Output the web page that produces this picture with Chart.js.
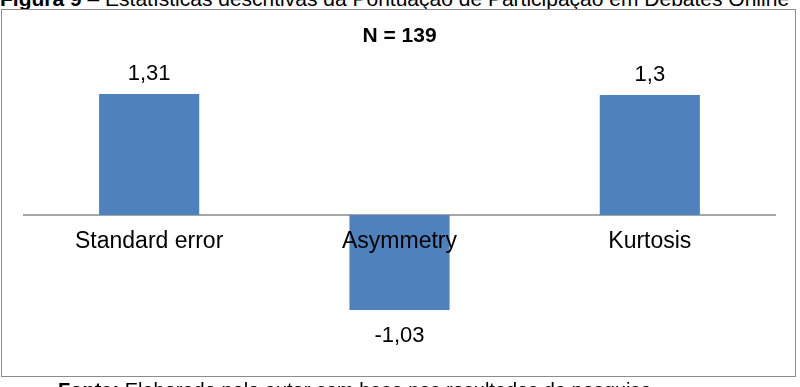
<!DOCTYPE html>
<html>
<head>
<meta charset="utf-8">
<script src="https://cdn.jsdelivr.net/npm/chart.js@4"></script>
<style>
  html, body { margin: 0; padding: 0; width: 800px; height: 387px; overflow: hidden; background: #fff; }
  body { position: relative; font-family: "Liberation Sans", Arial, sans-serif; }
  #frame { position: absolute; left: 1px; top: 9px; width: 795px; height: 368px; border: 1px solid #8c8c8c; box-sizing: border-box; }
  #cv { position: absolute; left: 0; top: 0; }
  .cap { position: absolute; white-space: nowrap; color: #000; }
  #capTop { left: 0; top: -11.8px; font-size: 21px; line-height: 21px; }
  #capBot { left: 58px; top: 380px; font-size: 20px; line-height: 20px; }
</style>
</head>
<body>
<div class="cap" id="capTop"><b>Figura 9</b> – Estatísticas descritivas da Pontuação de Participação em Debates Online</div>
<div id="frame"></div>
<canvas id="cv" width="800" height="387"></canvas>
<div class="cap" id="capBot"><b>Fonte:</b> Elaborado pelo autor com base nos resultados da pesquisa</div>
<script>
const categories = ["Standard error", "Asymmetry", "Kurtosis"];
const values = [1.31, -1.03, 1.3];
const valueLabels = ["1,31", "-1,03", "1,3"];
const chartTitle = "N = 139";

const FONT = '"Liberation Sans", Arial, sans-serif';

const dataLabelPlugin = {
  id: 'dataLabels',
  afterDatasetsDraw(chart) {
    const ctx = chart.ctx;
    const meta = chart.getDatasetMeta(0);
    ctx.save();
    ctx.font = '22px ' + FONT;
    ctx.fillStyle = '#000';
    ctx.textAlign = 'center';
    ctx.textBaseline = 'alphabetic';
    meta.data.forEach((bar, i) => {
      const v = values[i];
      const y = v >= 0 ? bar.y - 14 : bar.y + 31.5;
      ctx.fillText(valueLabels[i], bar.x, y);
    });
    ctx.restore();
  }
};

new Chart(document.getElementById('cv'), {
  type: 'bar',
  data: {
    labels: categories,
    datasets: [{
      data: values,
      backgroundColor: '#4f81bd',
      borderWidth: 0,
      barPercentage: 0.4,
      categoryPercentage: 1.0
    }]
  },
  options: {
    responsive: false,
    animation: false,
    devicePixelRatio: 1,
    layout: { padding: { left: 24, right: 25, top: 0, bottom: 33.5 } },
    plugins: {
      legend: { display: false },
      tooltip: { enabled: false },
      title: {
        display: true,
        text: chartTitle,
        color: '#000',
        font: { family: FONT, size: 21, weight: 'bold', lineHeight: 1.2 },
        padding: { top: 23.4, bottom: 27.9 }
      }
    },
    scales: {
      y: { display: false, min: -1.5, max: 1.5 },
      x: {
        position: { y: 0 },
        afterFit: (s) => { s.height = 0; },
        grid: { display: false, drawTicks: false },
        border: { display: true, color: '#a6a6a6', width: 2 },
        ticks: { z: 1, color: '#000', padding: 13, font: { family: FONT, size: 23 } }
      }
    }
  },
  plugins: [dataLabelPlugin]
});
</script>
</body>
</html>
